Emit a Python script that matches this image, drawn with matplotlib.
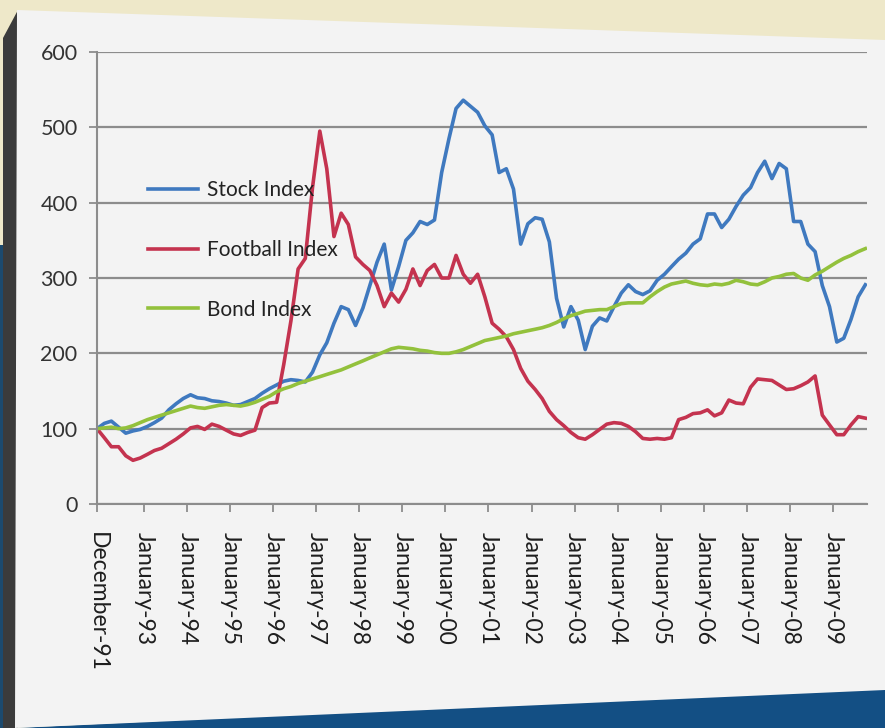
import matplotlib
matplotlib.use('Agg')
import matplotlib.pyplot as plt
from matplotlib.patches import Polygon
import pandas as pd

# bi-monthly readings, December 1991 to October 2009
dates = pd.date_range('1991-12-01', periods=108, freq='2MS')

stock = [100,
         107, 110, 102, 94, 97, 99,
         103, 108, 114, 125, 133, 140,
         145, 141, 140, 137, 136, 134,
         131, 132, 136, 140, 147, 153,
         158, 163, 165, 164, 162, 175,
         198, 214, 240, 262, 258, 237,
         260, 290, 321, 345, 284, 315,
         350, 360, 375, 371, 377, 440,
         485, 525, 536, 528, 520, 502,
         490, 440, 445, 418, 345, 372,
         380, 378, 348, 273, 235, 262,
         244, 205, 236, 247, 243, 262,
         280, 291, 282, 278, 283, 297,
         305, 315, 325, 333, 345, 352,
         385, 385, 367, 378, 395, 410,
         420, 440, 455, 432, 452, 445,
         375, 375, 345, 335, 290, 262,
         215, 220, 245, 275, 291]

football = [100,
            88, 76, 76, 64, 58, 61,
            66, 71, 74, 80, 86, 93,
            101, 103, 99, 106, 103, 98,
            93, 91, 95, 98, 128, 134,
            135, 185, 243, 312, 326, 420,
            495, 445, 355, 386, 371, 328,
            318, 310, 290, 262, 280, 268,
            285, 312, 290, 310, 318, 300,
            300, 330, 305, 293, 305, 275,
            240, 232, 222, 205, 180, 163,
            152, 140, 123, 112, 104, 95,
            88, 86, 92, 99, 106, 108,
            107, 103, 96, 87, 86, 87,
            86, 88, 112, 115, 120, 121,
            125, 117, 121, 138, 134, 133,
            155, 166, 165, 164, 158, 152,
            153, 157, 162, 170, 118, 105,
            92, 92, 105, 116, 114]

bond = [100,
        101, 102, 100, 101, 104, 108,
        112, 115, 118, 121, 124, 127,
        130, 128, 127, 129, 131, 132,
        131, 130, 132, 135, 139, 143,
        149, 153, 156, 160, 163, 166,
        169, 172, 175, 178, 182, 186,
        190, 194, 198, 202, 206, 208,
        207, 206, 204, 203, 201, 200,
        200, 202, 205, 209, 213, 217,
        219, 221, 223, 226, 228, 230,
        232, 234, 237, 241, 246, 250,
        253, 256, 257, 258, 258, 262,
        266, 267, 267, 267, 275, 282,
        288, 292, 294, 296, 293, 291,
        290, 292, 291, 293, 297, 295,
        292, 291, 295, 300, 302, 305,
        306, 300, 297, 304, 309, 315,
        321, 326, 330, 335, 339]

series_names = ['Stock Index', 'Football Index', 'Bond Index']
series_colors = ['#3f79bf', '#c4334f', '#93c13c']

tick_dates = [pd.Timestamp('1991-12-01')] + [pd.Timestamp(f'{y}-01-01') for y in range(1993, 2010)]
tick_labels = ['December-91'] + [f'January-{y % 100:02d}' for y in range(1993, 2010)]

W, H = 885, 728
fig = plt.figure(figsize=(W / 100, H / 100), dpi=100)
fig.patch.set_facecolor('#eee8c9')


def fig_xy(px, py):
    return (px / W, 1 - py / H)


# background: board, its edge and the blue wall
backdrop = [
    ([(0, 245), (12, 245), (12, 728), (0, 728)], '#1c4a6e'),
    ([(15, 728), (885, 686), (885, 728)], '#134f84'),
    ([(3, 38), (18, 10), (18, 728), (3, 728)], '#3b3b3b'),
    ([(17, 10), (885, 40), (885, 690), (15, 728)], '#f3f3f3'),
]
for pts, col in backdrop:
    fig.patches.append(Polygon([fig_xy(*p) for p in pts], closed=True,
                               transform=fig.transFigure, facecolor=col,
                               edgecolor='none', zorder=-5))

left, right, bottom, top = 97, 867, 504, 52
ax = fig.add_axes([left / W, 1 - bottom / H, (right - left) / W, (bottom - top) / H])
ax.set_facecolor('none')

for vals, name, col in zip([stock, football, bond], series_names, series_colors):
    ax.plot(dates, vals, color=col, lw=2.6, label=name, solid_joinstyle='round')

ax.set_ylim(0, 600)
ax.set_yticks(range(0, 601, 100))
ax.set_xlim(pd.Timestamp('1991-12-01'), pd.Timestamp('2009-10-15'))
ax.set_xticks(tick_dates)
ax.set_xticklabels(tick_labels, rotation=270, fontsize=16.5, color='#1e1e1e',
                   family='Lato', ha='center', va='top')
for t in ax.get_yticklabels():
    t.set_fontsize(15.5)
    t.set_family('Lato')
    t.set_color('#333333')

ax.yaxis.grid(True, color='#8c8c8c', lw=1.6)
ax.set_axisbelow(True)
for s in ['top', 'right']:
    ax.spines[s].set_visible(False)
for s in ['left', 'bottom']:
    ax.spines[s].set_color('#8c8c8c')
    ax.spines[s].set_linewidth(1.5)
ax.tick_params(axis='both', direction='out', length=6, width=1.3, color='#8c8c8c')
ax.tick_params(axis='y', pad=8)
ax.tick_params(axis='x', pad=14)

leg = ax.legend(loc='upper left', bbox_to_anchor=fig_xy(138, 170),
                bbox_transform=fig.transFigure, frameon=False,
                handlelength=2.4, handletextpad=0.4, labelspacing=1.9,
                borderpad=0, prop={'family': 'Lato', 'size': 15})
for t in leg.get_texts():
    t.set_color('#222222')

fig.savefig('out.png', dpi=100, facecolor=fig.get_facecolor())
